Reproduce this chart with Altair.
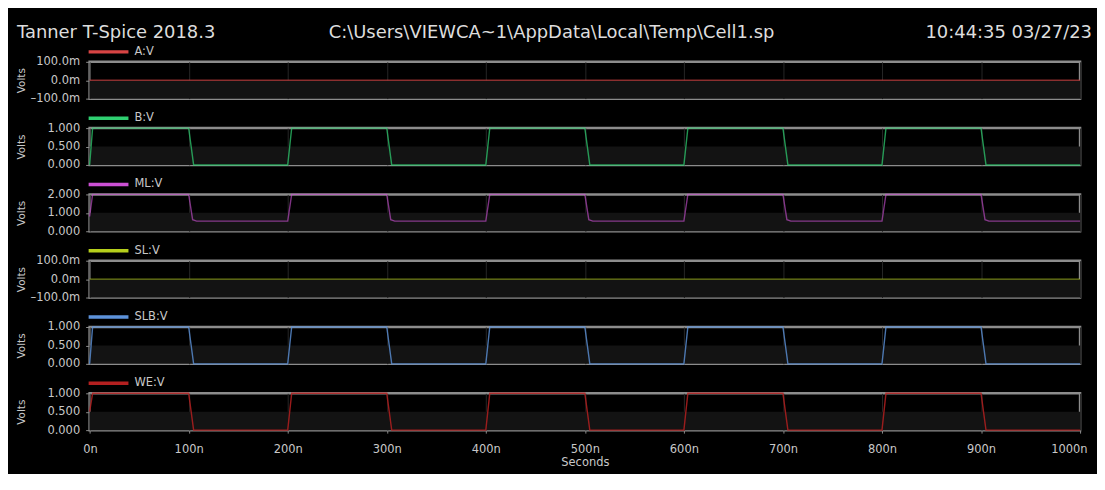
import altair as alt
import pandas as pd

# ---- data (time in ns, value in volts) ----
header_texts = ["Tanner T-Spice 2018.3",
                "C:\\Users\\VIEWCA~1\\AppData\\Local\\Temp\\Cell1.sp",
                "10:44:35 03/27/23"]

series_names = ["A:V", "B:V", "ML:V", "SL:V", "SLB:V", "WE:V"]
legend_colors = ["#d84444", "#2fd071", "#cc50d4", "#b6cf1c", "#5d92da", "#b42020"]
trace_opacity = [0.62, 0.72, 0.62, 0.58, 0.80, 0.85]

t_flat = [0, 1000]
a_v = [0, 0]
sl_v = [0, 0]

t_pulse = [0, 3, 100, 105, 200, 204, 300, 305, 400, 404, 500, 505,
           600, 604, 700, 705, 800, 804, 900, 905, 1000]
b_v = [0, 1, 1, 0, 0, 1, 1, 0, 0, 1, 1, 0, 0, 1, 1, 0, 0, 1, 1, 0, 0]
slb_v = [0, 1, 1, 0, 0, 1, 1, 0, 0, 1, 1, 0, 0, 1, 1, 0, 0, 1, 1, 0, 0]
we_v = [0.5, 1, 1, 0, 0, 1, 1, 0, 0, 1, 1, 0, 0, 1, 1, 0, 0, 1, 1, 0, 0]

t_ml = [0, 3, 100, 104, 108, 200, 204, 300, 304, 308, 400, 404, 500, 504, 508,
        600, 604, 700, 704, 708, 800, 804, 900, 904, 908, 1000]
ml_v = [0.8, 2, 2, 0.63, 0.55, 0.55, 2, 2, 0.63, 0.55, 0.55, 2, 2, 0.63, 0.55,
        0.55, 2, 2, 0.63, 0.55, 0.55, 2, 2, 0.63, 0.55, 0.55]

ticks_milli = [-0.1, 0.0, 0.1]
ticks_one = [0.0, 0.5, 1.0]
ticks_two = [0.0, 1.0, 2.0]
x_ticks = [0, 100, 200, 300, 400, 500, 600, 700, 800, 900, 1000]

FONT = "DejaVu Sans"
LABEL = "#c8c8c8"
W = 995
H = 37

milli_expr = "replace(format(datum.value*1000, '.1f'), '\u2212', '\u2013') + 'm'"
volt_expr = "format(datum.value, '.3f')"

panels_spec = [
    (t_flat, a_v, ticks_milli, milli_expr),
    (t_pulse, b_v, ticks_one, volt_expr),
    (t_ml, ml_v, ticks_two, volt_expr),
    (t_flat, sl_v, ticks_milli, milli_expr),
    (t_pulse, slb_v, ticks_one, volt_expr),
    (t_pulse, we_v, ticks_one, volt_expr),
]


def make_panel(i):
    t, v, ticks, expr = panels_spec[i]
    name = series_names[i]
    bottom = i == len(panels_spec) - 1
    first = i == 0

    xscale = alt.Scale(domain=[x_ticks[0], x_ticks[-1]], nice=False, zero=False)
    if bottom:
        xaxis = alt.Axis(values=x_ticks, labelExpr="datum.value + 'n'", title="Seconds",
                         grid=True, gridColor="#262626", gridWidth=1,
                         domain=False, ticks=True, tickSize=3, tickColor="#8c8c8c",
                         labelColor=LABEL, labelFont=FONT, labelFontSize=11.5,
                         labelFlush=True, labelFlushOffset=7, labelOverlap=False,
                         labelPadding=10, titleColor=LABEL, titleFont=FONT,
                         titleFontSize=11.5, titleFontWeight="normal", titlePadding=2)
    else:
        xaxis = alt.Axis(values=x_ticks, labels=False, ticks=False, domain=False,
                         title=None, grid=True, gridColor="#262626", gridWidth=1)

    yscale = alt.Scale(domain=[ticks[0], ticks[-1]], nice=False, zero=False)
    yaxis = alt.Axis(values=ticks, labelExpr=expr, title="Volts", grid=False,
                     domain=False, ticks=True, tickSize=4, tickColor="#8c8c8c",
                     labelColor=LABEL, labelFont=FONT, labelFontSize=11.5, labelPadding=6,
                     labelFlush=False, labelOverlap=False,
                     titleColor=LABEL, titleFont=FONT, titleFontSize=10.5,
                     titleFontWeight="normal", titleX=-68, titleBaseline="middle")

    band_df = pd.DataFrame({"lo": [ticks[0]], "hi": [ticks[1]]})
    band = alt.Chart(band_df).mark_rect(color="#131313").encode(
        y=alt.Y("lo:Q", scale=yscale, axis=yaxis),
        y2="hi:Q",
    )

    df = pd.DataFrame({"t": t, "v": v, "s": [name] * len(t)})
    line = alt.Chart(df).mark_line(strokeWidth=1.4, opacity=trace_opacity[i]).encode(
        x=alt.X("t:Q", scale=xscale, axis=xaxis),
        y=alt.Y("v:Q", scale=yscale, axis=yaxis),
        color=alt.Color("s:N", scale=alt.Scale(domain=[name], range=[legend_colors[i]]),
                        legend=alt.Legend(title=None, orient="none", legendX=-3, legendY=-32,
                                          symbolType="stroke", symbolSize=1600,
                                          symbolStrokeWidth=3.5, symbolOpacity=1,
                                          labelColor=LABEL, labelFont=FONT,
                                          labelFontSize=11.5, labelOffset=4, padding=0)),
    )
    layers = [band, line]

    if first:
        hdf = pd.DataFrame({"h": header_texts})
        common = dict(baseline="middle", font=FONT, fontSize=18, color="#dddddd")
        left = alt.Chart(hdf).transform_filter(alt.datum.h == header_texts[0]).mark_text(
            align="left", **common
        ).encode(x=alt.value(-73), y=alt.value(-29), text="h:N")
        mid = alt.Chart(hdf).transform_filter(alt.datum.h == header_texts[1]).mark_text(
            align="center", **common
        ).encode(x=alt.value(464), y=alt.value(-29), text="h:N")
        right = alt.Chart(hdf).transform_filter(alt.datum.h == header_texts[2]).mark_text(
            align="right", **common
        ).encode(x=alt.value(1007), y=alt.value(-29), text="h:N")
        layers += [left, mid, right]

    return alt.layer(*layers).properties(width=W, height=H)


panels = [make_panel(i) for i in range(len(panels_spec))]

chart = alt.vconcat(*panels, spacing=29.6, bounds="flush").resolve_scale(
    x="independent", y="independent", color="independent"
).resolve_axis(x="independent", y="independent").resolve_legend(
    color="independent"
).properties(
    background="#000000",
    padding={"left": 7, "top": 13, "right": 3, "bottom": 3},
).configure_view(
    stroke="#8c8c8c", strokeWidth=2.5
)

chart.save("out.html", embed_options={"renderer": "svg", "actions": False})
